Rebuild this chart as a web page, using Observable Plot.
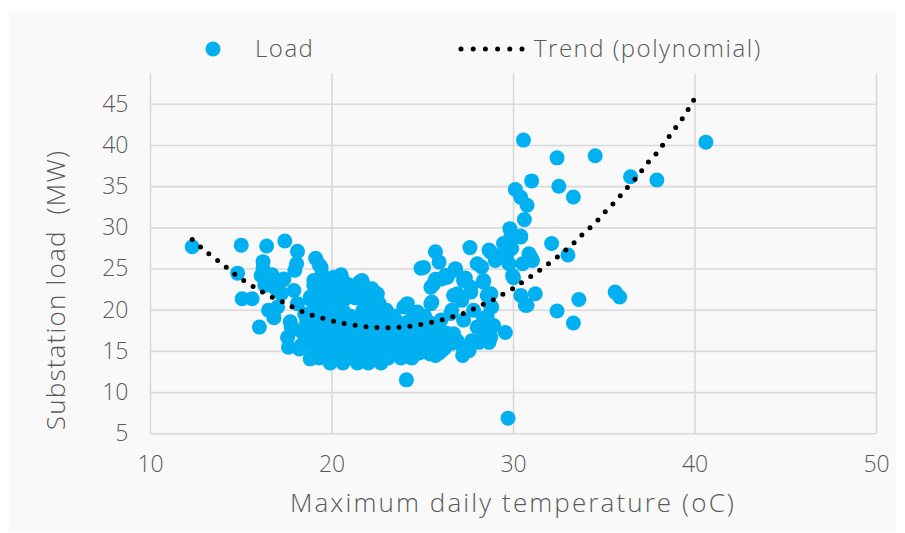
<!DOCTYPE html>
<html>
<head>
<meta charset="utf-8">
<script src="https://cdn.jsdelivr.net/npm/d3@7"></script>
<script src="https://cdn.jsdelivr.net/npm/@observablehq/plot@0.6"></script>
<style>
  body { margin: 0; background: #ffffff; }
  #wrap { position: relative; width: 905px; height: 533px; overflow: hidden; font-family: "Open Sans", sans-serif; color: #595959; }
  #panel { position: absolute; left: 9px; top: 12px; width: 887px; height: 520px; background: #f9f9f9; }
  #chart { position: absolute; left: 0; top: 0; }
  .txt { position: absolute; white-space: nowrap; font-size: 24px; line-height: 1; color: #595959; font-weight: 300; }
</style>
</head>
<body>
<div id="wrap">
  <div id="panel"></div>
  <div id="chart"></div>
  <svg id="legendSvg" style="position:absolute;left:0;top:0" width="905" height="80"></svg>
  <div class="txt" id="legLoad" style="left:255px;top:36px;letter-spacing:1.5px;">Load</div>
  <div class="txt" id="legTrend" style="left:534px;top:36px;letter-spacing:1.5px;">Trend (polynomial)</div>
  <div class="txt" id="xTitle" style="left:513px;top:489px;transform:translateX(-50%);letter-spacing:2.1px;font-size:26px;">Maximum daily temperature (oC)</div>
  <div class="txt" id="yTitle" style="left:55px;top:290px;transform:translate(-50%,-50%) rotate(-90deg);letter-spacing:1.2px;font-size:26px;">Substation load&nbsp; (MW)</div>
</div>
<script>
const xTicks = [10, 20, 30, 40, 50];
const yTicks = [5, 10, 15, 20, 25, 30, 35, 40, 45];

const legendLabels = ["Load", "Trend (polynomial)"];

// Trend line samples
const trendTemp = [12.3,12.8,13.3,13.9,14.4,14.9,15.5,16.1,16.7,17.3,17.9,18.5,19.1,19.8,20.4,21.1,21.75,22.4,23.1,23.8,24.4,25.1,25.8,26.4,27.1,27.7,28.3,28.9,29.5,30.1,30.6,31.2,31.7,32.3,32.8,33.3,33.8,34.3,34.8,35.2,35.7,36.1,36.6,37.0,37.4,37.9,38.3,38.7,39.1,39.5,39.8,40.2];
const trendMW = [28.6,27.6,26.7,25.7,24.8,23.95,23.1,22.3,21.6,21.0,20.3,19.7,19.25,18.85,18.5,18.24,18.04,17.9,17.88,17.95,18.1,18.35,18.7,19.05,19.5,20.05,20.7,21.3,22.05,22.8,23.6,24.45,25.3,26.25,27.15,28.1,29.2,30.2,31.3,32.3,33.4,34.5,35.65,36.75,37.9,39.1,40.3,41.45,42.67,43.9,45.1,46.35];

// Load observations [temperature (oC), load (MW)]
const loadLeft = [
 [12.3,27.7],[14.8,24.5],[15.0,27.9],[15.05,21.4],[15.6,21.4],[16.0,17.95],[16.1,24.2],[16.2,25.1],[16.2,25.9],[16.4,27.8],
 [16.3,23.0],[16.6,23.6],[16.7,24.3],[16.9,22.6],[17.2,22.0],[17.25,23.6],[16.5,20.0],[16.8,19.1],[17.0,20.4],[17.4,28.4],
 [17.35,23.8],[17.55,16.7],[17.6,15.5],[17.7,18.6],[17.75,17.95],[17.9,17.7],[17.9,22.4],[17.95,24.85],[18.05,25.65],[18.1,27.15],
 [18.1,20.8],[18.2,15.3],[18.3,15.7],[18.5,19.5],[18.6,18.5],[18.4,17.2],[18.8,21.6],[18.8,14.1],[18.85,21.2],[18.9,17.8],
 [18.7,16.3],[19.0,23.0],[19.0,23.6],[19.0,14.9],[19.1,26.3],[19.1,14.7],[19.2,17.0],[19.3,18.8],[19.1,20.2],[19.3,25.5],
 [19.4,25.2],[19.4,21.5],[19.5,22.6],[19.45,24.4]
];
const loadCluster = [
 [20.1,24.0],[20.5,24.3],[20.45,23.5],[21.5,23.4],[21.75,23.0],[22.5,22.0],[21.65,23.6],[20.9,23.1],[22.2,22.6],
 [19.9,13.6],[20.6,13.6],[21.4,13.6],[22.0,13.6],[22.7,13.6],
 [19.3,14.2],[20.3,14.2],[20.9,14.2],[21.7,14.2],[22.4,14.2],[23.1,14.2],[23.8,14.2],[24.4,14.2],
 [19.6,14.8],[20.1,14.8],[20.7,14.8],[21.2,14.8],[21.9,14.8],[22.6,14.8],[23.3,14.8],[24.1,14.8],[24.8,14.8],[25.4,14.8],[25.9,14.8],
 [19.4,15.4],[20.0,15.4],[20.5,15.4],[21.1,15.4],[21.6,15.4],[22.2,15.4],[22.8,15.4],[23.5,15.4],[24.2,15.4],[24.6,15.4],[25.2,15.4],[25.7,15.4],[26.2,15.4],
 [19.5,16.0],[19.9,16.0],[20.4,16.0],[20.9,16.0],[21.4,16.0],[22.0,16.0],[22.5,16.0],[23.0,16.0],[23.7,16.0],[24.4,16.0],[25.0,16.0],[25.5,16.0],[26.1,16.0],[26.6,16.0],
 [19.7,16.6],[20.2,16.6],[20.8,16.6],[21.3,16.6],[21.8,16.6],[22.3,16.6],[22.9,16.6],[23.4,16.6],[24.0,16.6],[24.7,16.6],[25.3,16.6],[25.9,16.6],
 [19.4,17.2],[20.0,17.2],[20.6,17.2],[21.1,17.2],[21.7,17.2],[22.2,17.2],[22.7,17.2],[23.3,17.2],[23.9,17.2],[24.5,17.2],[25.1,17.2],[25.6,17.2],[26.3,17.2],
 [19.8,17.9],[20.3,17.9],[20.9,17.9],[21.5,17.9],[22.0,17.9],[22.6,17.9],[23.2,17.9],[23.7,17.9],[24.3,17.9],[24.9,17.9],[25.4,17.9],[25.8,17.9],
 [19.6,18.6],[20.1,18.6],[20.7,18.6],[21.2,18.6],[21.8,18.6],[22.4,18.6],[23.0,18.6],[23.6,18.6],[24.2,18.6],[24.8,18.6],[25.3,18.6],
 [19.9,19.3],[20.4,19.3],[21.0,19.3],[21.5,19.3],[22.1,19.3],[22.8,19.3],[23.4,19.3],[24.5,19.3],[25.1,19.3],
 [19.5,20.0],[20.1,20.0],[20.6,20.0],[21.7,20.0],[22.3,20.0],[23.0,20.0],
 [19.8,20.8],[21.9,20.8],[22.6,20.8],
 [19.6,21.5],[20.2,21.5],[20.8,21.5],[21.3,21.5],[21.9,21.5],
 [19.9,22.2],[20.4,22.2],[21.0,22.2],[21.5,22.2],
 [19.7,22.9],[20.3,22.9],[20.9,22.9],[21.7,22.9],
 [20.0,23.6],[20.6,23.6]
];
const loadMid = [
 [23.95,20.4],[24.15,20.8],[22.85,19.4],[24.7,19.8],[25.45,20.8],[25.5,21.0],[25.45,22.8],[25.6,23.2],[25.7,23.75],[26.05,23.8],
 [24.9,25.1],[25.05,25.2],[25.7,27.1],[25.9,25.85],[26.0,18.8],[25.7,14.5],[26.05,15.1],[24.1,11.55],[25.4,14.7],[24.35,14.3],[23.05,14.3],
 [26.35,24.0],[26.25,24.25],[26.8,25.05],[26.8,24.85],[27.35,23.9],[27.25,23.6],[27.6,27.6],[27.65,22.8],[27.65,22.2],[26.9,22.0],
 [26.7,21.8],[27.15,21.2],[26.55,19.6],[26.6,20.0],[27.8,20.0],[27.25,18.8],[26.7,17.15],[26.35,17.15],[26.9,16.3],[27.7,16.3],
 [28.0,17.95],[28.35,17.35],[28.35,19.0],[28.55,19.2],[28.9,18.15],[28.8,17.95],[28.55,21.8],[28.75,22.0],[28.8,20.4],[28.75,20.4],
 [28.35,23.4],[28.35,23.6],[28.0,25.65],[28.25,25.25],[28.65,27.3],[28.75,27.05],[29.0,26.05],[29.3,26.65],[29.55,26.3],[29.45,28.1],
 [29.9,27.5],[29.65,26.9],[29.75,25.65],[29.85,28.9],[29.8,29.9],[30.4,28.9],[30.4,29.0],[30.85,26.85],[30.95,26.45],[31.05,26.05],
 [30.5,25.65],[29.95,24.2],[30.0,23.95],[28.65,16.1],[28.75,16.75],[28.1,16.1],[27.55,15.1],[27.2,14.5],[27.2,15.5],[29.55,17.3],[29.7,6.9]
];
const loadRight = [
 [30.4,21.8],[30.65,20.6],[30.75,20.6],[31.2,22.0],[30.1,34.65],[30.4,33.7],[30.75,32.75],[30.6,31.0],[30.55,40.65],[31.0,35.7],
 [32.1,28.1],[33.0,26.7],[32.4,38.5],[32.5,35.05],[33.3,33.75],[34.5,38.75],[33.6,21.3],[32.4,19.9],[33.3,18.45],[35.6,22.2],
 [35.85,21.6],[36.45,36.2],[37.9,35.8],[40.6,40.4]
];

const loadPoints = [...loadLeft, ...loadCluster, ...loadMid, ...loadRight].map(([t, l]) => ({t, l}));
const trend = trendTemp.map((t, i) => ({t, l: trendMW[i]}));

const grid = {stroke: "#d9d9d9", strokeOpacity: 1, strokeWidth: 1.6};

const chart = Plot.plot({
  width: 905,
  height: 533,
  marginLeft: 150,
  marginRight: 29,
  marginTop: 73.3,
  marginBottom: 99.7,
  style: {background: "transparent", fontFamily: "Open Sans, sans-serif", color: "#595959", overflow: "visible", fontWeight: 300},
  x: {domain: [10, 50], ticks: xTicks},
  y: {domain: [5, 48.7], ticks: yTicks},
  marks: [
    Plot.gridX(xTicks, grid),
    Plot.gridY(yTicks, grid),
    Plot.axisX(xTicks, {tickSize: 0, tickPadding: 22, fontSize: 23, fill: "#595959", label: null}),
    Plot.axisY(yTicks, {tickSize: 0, tickPadding: 22, fontSize: 23, fill: "#595959", label: null}),
    Plot.dot(loadPoints, {x: "t", y: "l", r: 7.5, fill: "#00b0f0", stroke: "none"}),
    Plot.line(trend, {x: "t", y: "l", stroke: "#000000", strokeWidth: 5, strokeDasharray: "0 11", strokeLinecap: "round", curve: "catmull-rom"})
  ]
});
document.getElementById("chart").appendChild(chart);

// Legend swatches
const lg = d3.select("#legendSvg");
lg.append("circle").attr("cx", 213).attr("cy", 49).attr("r", 7.5).attr("fill", "#00b0f0");
lg.append("line").attr("x1", 461).attr("x2", 522).attr("y1", 49).attr("y2", 49)
  .attr("stroke", "#000").attr("stroke-width", 5).attr("stroke-linecap", "round").attr("stroke-dasharray", "0 12.2");
document.getElementById("legLoad").textContent = legendLabels[0];
document.getElementById("legTrend").textContent = legendLabels[1];
</script>
</body>
</html>
